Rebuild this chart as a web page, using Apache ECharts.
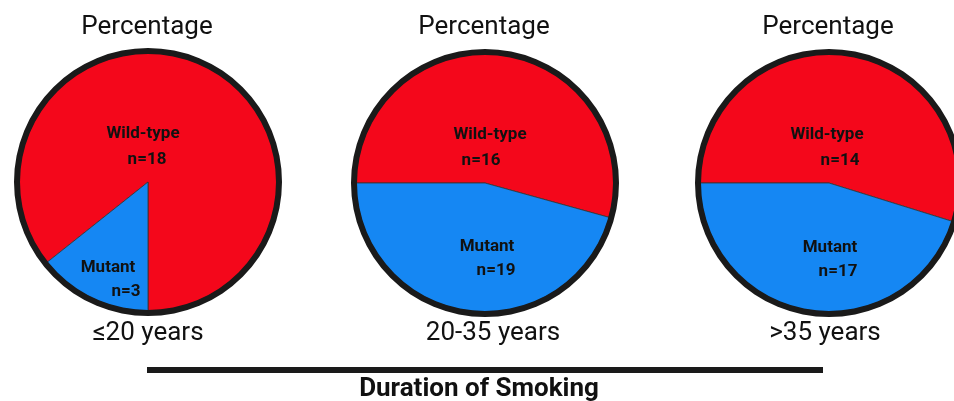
<!DOCTYPE html>
<html>
<head>
<meta charset="utf-8">
<title>Duration of Smoking</title>
<script src="https://cdn.jsdelivr.net/npm/echarts@6/dist/echarts.min.js"></script>
<style>
html, body { margin: 0; padding: 0; background: #fff; }
#chart { width: 954px; height: 401px; }
</style>
</head>
<body>
<div id="chart"></div>
<script>
// data
var groups = ['≤20 years', '20-35 years', '>35 years'];
var wildPct = [85.7, 54.3, 54.8];   // slice share as drawn
var mutantPct = [14.3, 45.7, 45.2];
var wildN = [18, 16, 14];
var mutantN = [3, 19, 17];

var RED = '#F4071B';
var BLUE = '#1587F3';
var FONT = 'Roboto';

// layout of each pie
var centers = [[148, 182], [485, 183], [829, 183]];
var starts = [-90, 180, 180];
var clockwise = [false, true, true];
var groupShift = [0, 8, -4];
// label block centres relative to pie centre, and shift of the "n=" line
var wildOff = [[-5, -35], [5, -35], [-2, -35]];
var mutOff = [[-40, 97], [2, 75], [1, 76]];
var wildShift = [4, -9, 13];
var mutShift = [18, 9, 8];

function shiftPad(d) {
  return d >= 0 ? [0, 0, 0, 2 * d] : [0, -2 * d, 0, 0];
}

var chart = echarts.init(document.getElementById('chart'));

var titles = [];
var series = [];

groups.forEach(function (g, i) {
  var c = centers[i];
  titles.push({
    text: 'Percentage', left: c[0] - 1, top: 14, textAlign: 'center', padding: 0,
    textStyle: { fontFamily: FONT, fontSize: 26, fontWeight: 'normal', color: '#111' }
  });
  titles.push({
    text: g, left: c[0] + groupShift[i], top: 320, textAlign: 'center', padding: 0,
    textStyle: { fontFamily: FONT, fontSize: 26, fontWeight: 'normal', color: '#111' }
  });

  series.push({
    type: 'pie',
    center: c,
    radius: [0, 129],
    startAngle: starts[i],
    clockwise: clockwise[i],
    silent: true,
    animation: false,
    itemStyle: { borderColor: '#333', borderWidth: 0.8 },
    label: {
      show: true,
      position: 'inside',
      fontFamily: FONT,
      color: '#111',
      formatter: function (p) {
        return '{t|' + p.data.title + '}\n{n|n=' + p.data.n + '}';
      },
      rich: {
        t: { fontFamily: FONT, fontSize: 17, fontWeight: 'bold', color: '#111', lineHeight: 26 },
        n: { fontFamily: FONT, fontSize: 17, fontWeight: 'bold', color: '#111', lineHeight: 22 }
      }
    },
    labelLine: { show: false },
    labelLayout: function (p) {
      var off = p.dataIndex === 0 ? wildOff[i] : mutOff[i];
      return { x: c[0] + off[0], y: c[1] + off[1], align: 'center', verticalAlign: 'middle' };
    },
    data: [
      {
        value: wildPct[i], name: 'Wild-type', title: 'Wild-type', n: wildN[i],
        itemStyle: { color: RED },
        label: { rich: { n: { padding: shiftPad(wildShift[i]), lineHeight: 27 } } }
      },
      {
        value: mutantPct[i], name: 'Mutant', title: 'Mutant', n: mutantN[i],
        itemStyle: { color: BLUE },
        label: { rich: { n: { padding: shiftPad(mutShift[i]) } } }
      }
    ]
  });

  // black rim
  series.push({
    type: 'pie',
    center: c,
    radius: [128, 134],
    silent: true,
    animation: false,
    label: { show: false },
    labelLine: { show: false },
    itemStyle: { color: '#1a1a1a' },
    data: [{ value: 1, name: 'rim' }]
  });
});

titles.push({
  text: 'Duration of Smoking', left: 479, top: 376, textAlign: 'center', padding: 0,
  textStyle: { fontFamily: FONT, fontSize: 26, fontWeight: 'bold', color: '#111' }
});

chart.setOption({
  backgroundColor: '#fff',
  animation: false,
  title: titles,
  series: series,
  graphic: [{
    type: 'rect',
    shape: { x: 147, y: 367, width: 676, height: 6 },
    style: { fill: '#1a1a1a' },
    silent: true
  }]
});
window.addEventListener('resize', chart.resize);
</script>
</body>
</html>
